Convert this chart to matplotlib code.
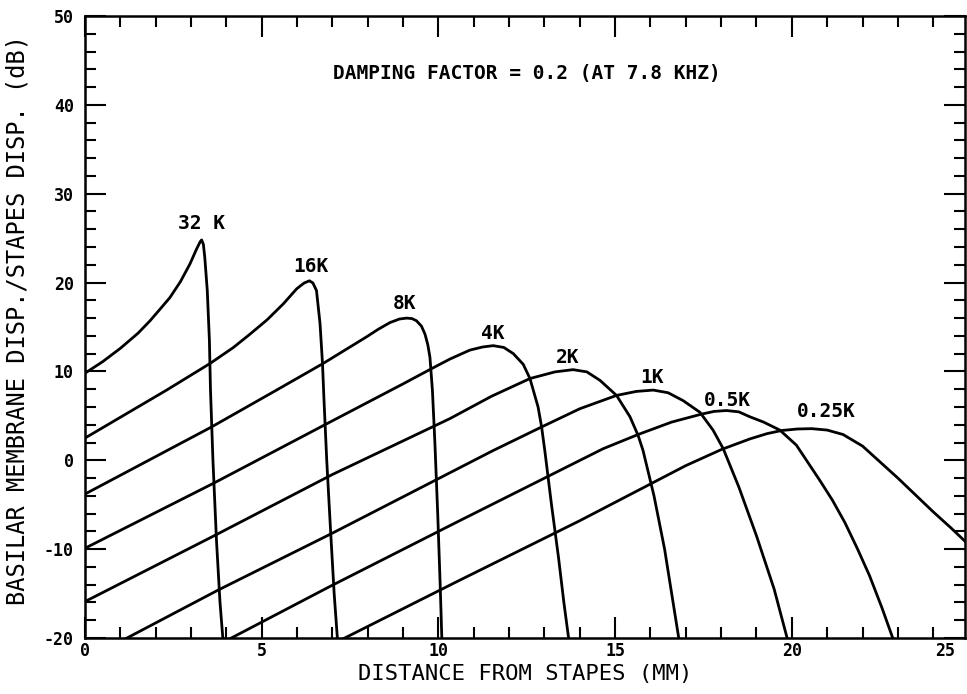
import matplotlib
matplotlib.use("Agg")
import matplotlib.pyplot as plt
from matplotlib.ticker import MultipleLocator, FixedLocator

plt.rcParams['axes.unicode_minus'] = False
plt.rcParams['font.family'] = ['DejaVu Sans Mono', 'DejaVu Sans']

# ---- data (distance in mm, response in dB) ----
labels = ['32 K', '16K', '8K', '4K', '2K', '1K', '0.5K', '0.25K']

x_32k = [0.0, 0.5, 1.0, 1.5, 1.84, 2.1, 2.4, 2.7, 2.97, 3.16, 3.26, 3.30, 3.35, 3.39, 3.46, 3.52, 3.55, 3.62, 3.72, 3.82, 3.91]
y_32k = [9.8, 11.1, 12.6, 14.3, 15.7, 16.9, 18.3, 20.1, 22.1, 23.8, 24.6, 24.8, 24.3, 22.8, 19.1, 13.5, 8.0, 0.0, -9.0, -16.0, -20.5]

x_16k = [0.0, 2.31, 3.54, 4.2, 4.67, 5.15, 5.61, 5.99, 6.2, 6.35, 6.45, 6.55, 6.65, 6.72, 6.76, 6.84, 6.95, 7.05, 7.15]
y_16k = [2.5, 7.9, 10.9, 12.7, 14.2, 15.8, 17.6, 19.3, 19.95, 20.2, 19.95, 19.1, 15.4, 10.9, 7.0, 0.0, -8.0, -15.0, -20.5]

x_8k = [0.0, 3.58, 5.42, 6.74, 7.97, 8.3, 8.63, 8.9, 9.1, 9.25, 9.38, 9.52, 9.62, 9.70, 9.76, 9.83, 9.90, 9.98, 10.05, 10.10]
y_8k = [-3.8, 3.75, 7.9, 10.9, 13.9, 14.75, 15.5, 15.9, 16.0, 15.95, 15.7, 15.1, 14.2, 13.0, 11.6, 7.9, 2.0, -6.0, -14.0, -20.5]

x_4k = [0.0, 3.63, 6.74, 9.0, 9.8, 10.33, 10.89, 11.25, 11.55, 11.85, 12.12, 12.40, 12.59, 12.82, 12.92, 13.01, 13.20, 13.40, 13.55, 13.70]
y_4k = [-9.9, -2.6, 3.9, 8.6, 10.3, 11.4, 12.4, 12.75, 12.9, 12.7, 12.0, 10.8, 9.2, 6.0, 3.75, 1.1, -5.0, -11.0, -16.0, -20.5]

x_2k = [0.0, 3.70, 7.0, 10.33, 11.5, 12.1, 12.59, 13.3, 13.81, 14.2, 14.57, 15.04, 15.42, 15.65, 15.79, 16.10, 16.40, 16.60, 16.82]
y_2k = [-15.9, -8.4, -1.6, 4.7, 7.2, 8.3, 9.2, 9.95, 10.2, 9.95, 9.0, 7.3, 4.9, 2.8, 1.1, -4.0, -10.0, -15.0, -20.5]

x_1k = [0.95, 3.77, 7.0, 11.55, 12.92, 14.0, 15.04, 15.6, 16.08, 16.5, 16.93, 17.40, 17.77, 18.06, 18.50, 19.00, 19.50, 19.90]
y_1k = [-20.5, -14.6, -8.2, 1.1, 3.75, 5.8, 7.3, 7.75, 7.9, 7.6, 6.7, 5.4, 3.4, 1.3, -3.0, -8.5, -14.5, -20.5]

x_05k = [3.90, 6.93, 10.5, 14.66, 15.65, 16.6, 17.45, 17.8, 18.15, 18.5, 18.81, 19.2, 19.66, 20.13, 20.79, 21.15, 21.50, 21.85, 22.20, 22.55, 22.90]
y_05k = [-20.5, -14.2, -7.0, 1.3, 2.9, 4.3, 5.2, 5.5, 5.6, 5.45, 4.9, 4.3, 3.4, 1.7, -2.25, -4.5, -7.0, -9.9, -13.0, -16.6, -20.5]

x_025k = [7.10, 10.5, 14.0, 17.0, 18.0, 18.81, 19.3, 19.71, 20.15, 20.56, 21.0, 21.45, 22.0, 22.5, 23.0, 23.5, 24.0, 24.5, 24.95]
y_025k = [-20.5, -13.7, -6.8, -0.6, 1.2, 2.4, 3.0, 3.35, 3.52, 3.56, 3.4, 2.9, 1.6, -0.2, -2.0, -3.9, -5.8, -7.6, -9.3]

label_x = [3.31, 6.39, 9.03, 11.55, 13.66, 16.03, 18.18, 20.98]
label_y = [26.6, 21.8, 17.6, 14.3, 11.6, 9.36, 6.74, 5.54]

x_ticks = [0, 5, 10, 15, 20, 24.35]
x_tick_labels = ['0', '5', '10', '15', '20', '25']
y_ticks = [-20, -10, 0, 10, 20, 30, 40, 50]
y_tick_labels = ['-20', '-10', '0', '10', '20', '30', '40', '50']

title_text = 'DAMPING FACTOR = 0.2 (AT 7.8 KHZ)'
x_label = 'DISTANCE FROM STAPES (MM)'
y_label = 'BASILAR MEMBRANE DISP./STAPES DISP. (dB)'

curves = [(x_32k, y_32k), (x_16k, y_16k), (x_8k, y_8k), (x_4k, y_4k),
          (x_2k, y_2k), (x_1k, y_1k), (x_05k, y_05k), (x_025k, y_025k)]

# ---- figure ----
fig = plt.figure(figsize=(9.67, 6.94), dpi=100)
ax = fig.add_axes([85/967, 1-638/694, 880/967, 622/694])

for xs, ys in curves:
    ax.plot(xs, ys, color='black', lw=2.0, solid_joinstyle='round', solid_capstyle='round')

for txt, lx, ly in zip(labels, label_x, label_y):
    ax.text(lx, ly, txt, ha='center', va='center', fontsize=14, fontweight='bold')

ax.text(12.5, 43.5, title_text, ha='center', va='center', fontsize=14, fontweight='bold')

ax.set_xlim(0, 24.9)
ax.set_ylim(-20, 50)

ax.xaxis.set_major_locator(FixedLocator(x_ticks))
ax.set_xticklabels(x_tick_labels)
ax.xaxis.set_minor_locator(MultipleLocator(1))
ax.yaxis.set_major_locator(FixedLocator(y_ticks))
ax.set_yticklabels(y_tick_labels)
ax.yaxis.set_minor_locator(MultipleLocator(2))

ax.tick_params(which='both', direction='in', top=True, right=True, width=1.5, color='black')
ax.tick_params(which='major', length=15)
ax.tick_params(which='minor', length=8)
ax.tick_params(axis='x', which='major', pad=3, labelsize=12)
ax.tick_params(axis='y', which='major', pad=8, labelsize=12)
for lab in ax.get_xticklabels() + ax.get_yticklabels():
    lab.set_fontweight('bold')

# the "25" label sits left of its (off-scale) tick
t = ax.xaxis.get_major_ticks()[-1]
t.tick1line.set_visible(False)
t.tick2line.set_visible(False)

for s in ax.spines.values():
    s.set_linewidth(1.8)

ax.set_xlabel(x_label, fontsize=16)
ax.xaxis.label.set_va('center')
ax.xaxis.set_label_coords(0.5, (638-674)/622)
ax.set_ylabel(y_label, fontsize=17)
ax.yaxis.label.set_va('center')
ax.yaxis.set_label_coords((18-85)/880, (638-320)/622)

fig.savefig('out.png', dpi=100)
